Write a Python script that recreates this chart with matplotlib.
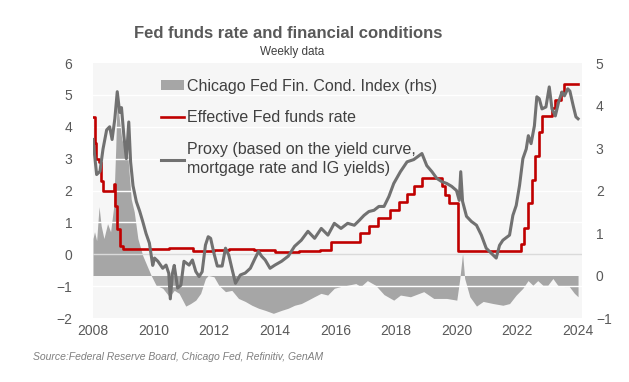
import matplotlib
matplotlib.use("Agg")
import matplotlib.pyplot as plt
from matplotlib.patches import Patch
from matplotlib.lines import Line2D

plt.rcParams['font.family'] = ['Liberation Sans', 'DejaVu Sans']

# ---- Data (decimal years) ----
proxy_x = [2008.00, 2008.12, 2008.23, 2008.33, 2008.45, 2008.55, 2008.63, 2008.72, 2008.80, 2008.88,
           2008.94, 2009.02, 2009.10, 2009.18, 2009.24, 2009.32, 2009.43, 2009.54, 2009.64, 2009.75,
           2009.86, 2009.97, 2010.03, 2010.14, 2010.30, 2010.41, 2010.50, 2010.55, 2010.62, 2010.68,
           2010.79, 2010.90, 2011.00, 2011.17, 2011.28, 2011.39, 2011.50, 2011.60, 2011.71, 2011.80,
           2011.88, 2011.99, 2012.10, 2012.26, 2012.37, 2012.48, 2012.58, 2012.70, 2012.86, 2013.02,
           2013.19, 2013.35, 2013.46, 2013.56, 2013.68, 2013.84, 2014.00, 2014.22, 2014.44, 2014.65,
           2014.87, 2015.09, 2015.31, 2015.53, 2015.75, 2015.96, 2016.18, 2016.40, 2016.62, 2016.78,
           2016.94, 2017.10, 2017.27, 2017.43, 2017.60, 2017.76, 2017.92, 2018.14, 2018.36, 2018.58,
           2018.85, 2019.01, 2019.18, 2019.34, 2019.50, 2019.67, 2019.83, 2019.99, 2020.08, 2020.13,
           2020.19, 2020.32, 2020.48, 2020.65, 2020.81, 2020.97, 2021.14, 2021.30, 2021.41, 2021.52,
           2021.74, 2021.85, 2021.96, 2022.07, 2022.18, 2022.29, 2022.36, 2022.45, 2022.56, 2022.64,
           2022.72, 2022.81, 2022.94, 2023.05, 2023.14, 2023.25, 2023.36, 2023.47, 2023.55, 2023.66,
           2023.73, 2023.84, 2023.93, 2024.00]
proxy_y = [3.60, 2.50, 2.60, 3.30, 3.90, 4.00, 3.60, 4.25, 5.10, 4.45,
           4.60, 3.70, 3.00, 4.15, 2.90, 2.15, 1.65, 1.35, 1.03, 0.65,
           0.35, -0.35, -0.12, -0.22, -0.44, -0.34, -0.60, -1.40, -0.60, -0.35,
           -1.06, -0.97, -0.22, -0.34, -0.18, -0.54, -0.70, -0.55, 0.29, 0.55,
           0.50, 0.03, -0.37, -0.37, 0.19, -0.03, -0.44, -0.91, -0.65, -0.59,
           -0.44, -0.12, 0.09, -0.06, -0.18, -0.44, -0.34, -0.22, -0.06, 0.25,
           0.44, 0.72, 0.50, 0.81, 0.60, 0.97, 0.81, 0.97, 0.91, 1.06,
           1.22, 1.34, 1.38, 1.50, 1.50, 1.81, 2.22, 2.59, 2.90, 2.97,
           3.16, 2.78, 2.59, 2.38, 2.28, 2.22, 2.13, 2.00, 1.69, 2.59,
           1.66, 1.19, 1.03, 0.91, 0.60, 0.19, 0.03, -0.12, 0.28, 0.44,
           0.60, 1.22, 1.53, 2.16, 3.00, 3.30, 3.72, 3.47, 4.03, 4.94,
           4.88, 4.56, 4.62, 5.25, 4.56, 4.34, 4.78, 5.09, 4.97, 5.19,
           5.12, 4.66, 4.31, 4.25]

effr_x = [2008.00, 2008.05, 2008.10, 2008.20, 2008.27, 2008.33, 2008.68, 2008.74, 2008.80, 2008.90,
          2009.00, 2010.00, 2010.50, 2011.30, 2012.00, 2012.50, 2013.30, 2014.00, 2014.80, 2015.50,
          2015.85, 2016.80, 2017.10, 2017.40, 2017.80, 2018.10, 2018.35, 2018.60, 2018.85, 2019.50,
          2019.62, 2019.75, 2020.05, 2022.12, 2022.22, 2022.36, 2022.47, 2022.58, 2022.70, 2022.82,
          2023.15, 2023.25, 2023.43, 2023.55, 2024.00]
effr_y = [4.30, 3.50, 3.00, 2.90, 2.30, 2.00, 2.20, 1.50, 0.80, 0.25,
          0.18, 0.15, 0.19, 0.10, 0.14, 0.16, 0.12, 0.08, 0.11, 0.14,
          0.40, 0.66, 0.90, 1.15, 1.40, 1.65, 1.90, 2.15, 2.40, 2.15,
          1.85, 1.60, 0.10, 0.33, 0.83, 1.60, 2.33, 3.08, 3.83, 4.33,
          4.58, 4.83, 5.08, 5.33, 5.33]

nfci_x = [2008.00, 2008.05, 2008.12, 2008.20, 2008.27, 2008.36, 2008.48, 2008.58, 2008.68, 2008.75,
          2008.80, 2008.85, 2008.95, 2009.05, 2009.15, 2009.26, 2009.36, 2009.48, 2009.64, 2009.80,
          2009.92, 2010.08, 2010.30, 2010.52, 2010.68, 2010.84, 2011.06, 2011.22, 2011.39, 2011.55,
          2011.71, 2011.80, 2011.99, 2012.15, 2012.37, 2012.58, 2012.80, 2013.02, 2013.24, 2013.46,
          2013.68, 2013.95, 2014.22, 2014.44, 2014.65, 2014.87, 2015.09, 2015.30, 2015.52, 2015.74,
          2015.96, 2016.17, 2016.39, 2016.67, 2016.83, 2017.05, 2017.32, 2017.60, 2017.92, 2018.14,
          2018.47, 2018.91, 2019.24, 2019.67, 2020.00, 2020.10, 2020.19, 2020.26, 2020.43, 2020.65,
          2020.87, 2021.20, 2021.52, 2021.74, 2021.96, 2022.18, 2022.35, 2022.51, 2022.67, 2022.84,
          2023.00, 2023.17, 2023.33, 2023.55, 2023.71, 2023.88, 2024.00]
nfci_y = [0.87, 1.03, 0.82, 1.62, 1.17, 0.87, 1.22, 1.03, 1.60, 3.00,
          4.30, 3.80, 3.20, 3.00, 2.80, 1.80, 1.50, 0.87, 0.47, 0.20,
          0.00, -0.23, -0.30, -0.50, -0.35, -0.42, -0.72, -0.66, -0.58, -0.42,
          -0.07, 0.00, -0.03, -0.23, -0.38, -0.35, -0.54, -0.61, -0.70, -0.77,
          -0.82, -0.89, -0.82, -0.77, -0.70, -0.66, -0.58, -0.50, -0.42, -0.46,
          -0.30, -0.26, -0.23, -0.19, -0.26, -0.12, -0.23, -0.45, -0.58, -0.46,
          -0.50, -0.38, -0.54, -0.54, -0.58, -0.07, 0.52, -0.07, -0.50, -0.72,
          -0.61, -0.66, -0.70, -0.66, -0.46, -0.30, -0.12, -0.23, -0.12, -0.23,
          -0.23, -0.07, -0.23, -0.26, -0.26, -0.42, -0.50]

x_ticks = [2008, 2010, 2012, 2014, 2016, 2018, 2020, 2022, 2024]
left_ticks = [-2, -1, 0, 1, 2, 3, 4, 5, 6]
right_ticks = [-1, 0, 1, 2, 3, 4, 5]

title = "Fed funds rate and financial conditions"
subtitle = "Weekly data"
source = "Source:Federal Reserve Board, Chicago Fed, Refinitiv, GenAM"
lab_nfci = "Chicago Fed Fin. Cond. Index (rhs)"
lab_effr = "Effective Fed funds rate"
lab_proxy = "Proxy (based on the yield curve,\nmortgage rate and IG yields)"

# ---- Colours ----
c_text = "#595959"
c_area = "#a6a6a6"
c_red = "#c00000"
c_proxy = "#717171"
c_bg = "#f6f6f6"

fig = plt.figure(figsize=(6.29, 3.82), dpi=100)
fig.patch.set_facecolor("white")
ax = fig.add_axes([93/629, 1 - 318/382, (582-93)/629, (318-63)/382])
ax2 = ax.twinx()

# right axis (area) behind, left axis on top
ax.set_zorder(ax2.get_zorder() + 1)
ax.patch.set_visible(False)
ax2.patch.set_visible(True)
ax2.patch.set_facecolor(c_bg)

ax2.fill_between(nfci_x, 0, nfci_y, color=c_area, linewidth=0, zorder=1)
ax2.set_ylim(-1, 5)
ax2.set_yticks(right_ticks)

ax.plot(effr_x, effr_y, color=c_red, lw=1.9, drawstyle="steps-post", zorder=3)
ax.plot(proxy_x, proxy_y, color=c_proxy, lw=2.2, zorder=4)
ax.set_ylim(-2, 6)
ax.set_yticks(left_ticks)
ax.set_xlim(2008, 2024.13)
ax.set_xticks(x_ticks)

for t in left_ticks:
    if t == 0:
        ax.axhline(t, color="#dadada", lw=1.0, zorder=2)
    elif t not in (-2, 6):
        ax.axhline(t, color="white", lw=1.0, zorder=2)

for a in (ax, ax2):
    for s in a.spines.values():
        s.set_visible(False)
    a.tick_params(length=0, colors=c_text, labelsize=10)
ax.tick_params(axis='y', pad=15)
ax2.tick_params(axis='y', pad=10)
ax.tick_params(axis='x', pad=4)
for lab in ax.get_xticklabels() + ax.get_yticklabels() + ax2.get_yticklabels():
    lab.set_color(c_text)

handles = [Patch(facecolor=c_area, edgecolor="none"),
           Line2D([], [], color=c_red, lw=1.9),
           Line2D([], [], color=c_proxy, lw=2.2)]
leg = ax.legend(handles, [lab_nfci, lab_effr, lab_proxy], loc="upper left",
                bbox_to_anchor=(0.11, 0.995), frameon=False, fontsize=11.5,
                handlelength=1.45, handletextpad=0.15, labelspacing=1.05,
                handleheight=0.5)
for t in leg.get_texts():
    t.set_color("#404040")
    t.set_linespacing(1.35)

fig.text(288/629, 1 - 33/382, title, ha="center", va="center", fontsize=12,
         fontweight="bold", color=c_text)
fig.text(292/629, 1 - 52/382, subtitle, ha="center", va="center", fontsize=8.5,
         color="#404040")
fig.text(33/629, 1 - 357/382, source, ha="left", va="center", fontsize=7.5,
         style="italic", color="#7f7f7f")

fig.savefig("out.png", dpi=100)
